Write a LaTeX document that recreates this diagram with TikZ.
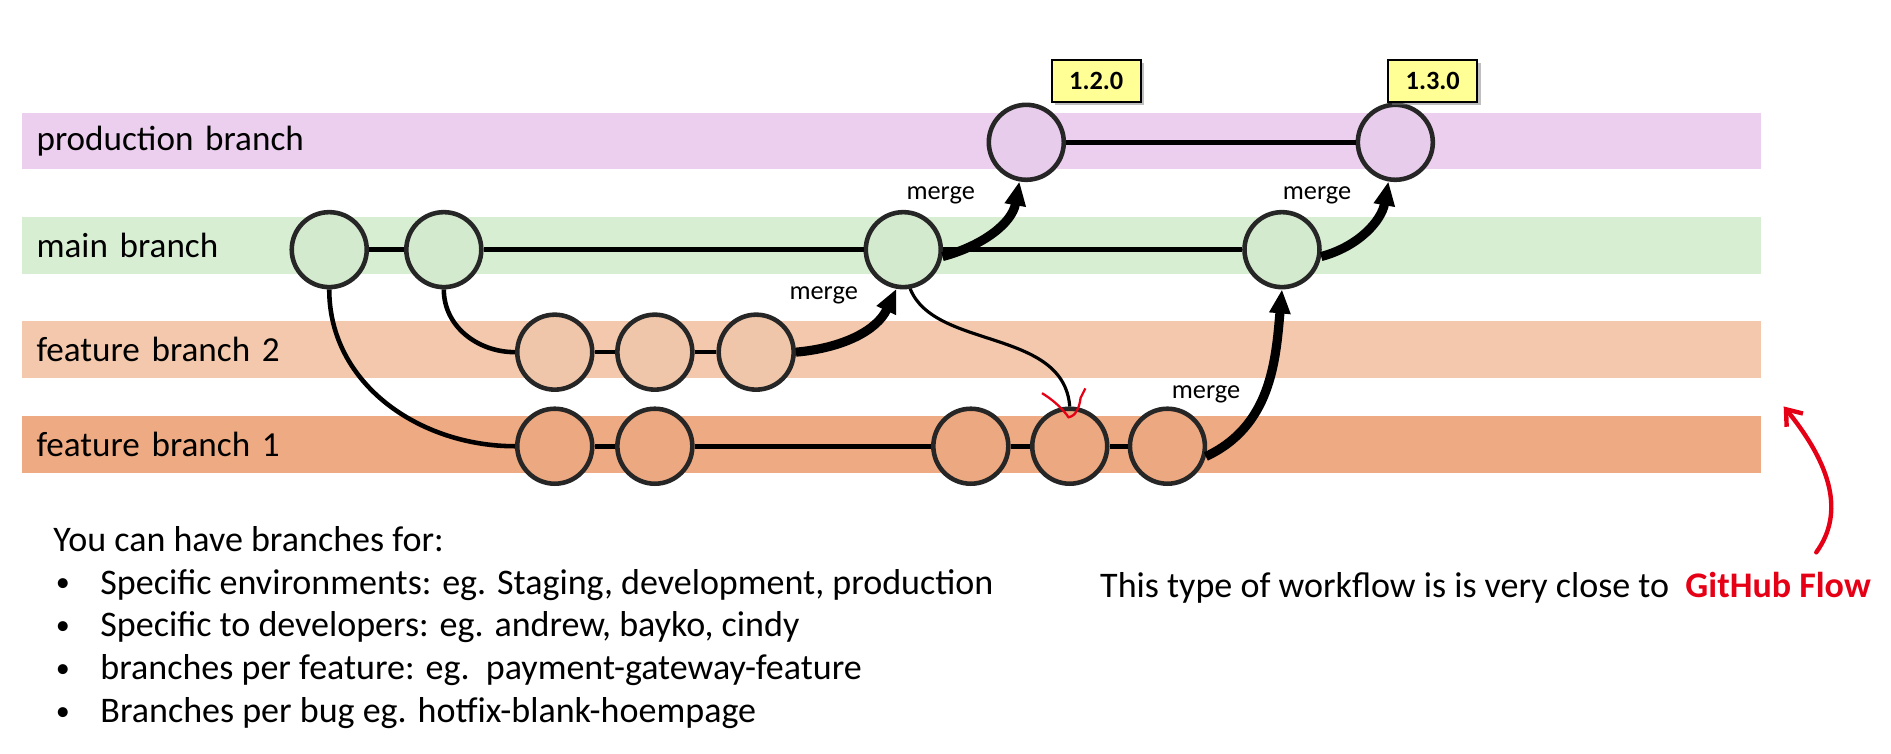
\documentclass[tikz,border=0pt]{standalone}
\usepackage{fontspec}
\setmainfont{Carlito}
\usepackage{tikz}
\usetikzlibrary{arrows.meta,positioning,shadows}

\definecolor{prodband}{RGB}{236,206,238}
\definecolor{mainband}{RGB}{216,238,210}
\definecolor{featband2}{RGB}{244,200,172}
\definecolor{featband1}{RGB}{238,170,130}
\definecolor{prodcirc}{RGB}{232,204,236}
\definecolor{maincirc}{RGB}{212,234,206}
\definecolor{featcirc2}{RGB}{240,198,170}
\definecolor{featcirc1}{RGB}{236,168,128}
\definecolor{tagyellow}{RGB}{255,255,150}
\definecolor{ghred}{RGB}{230,0,22}

\newcommand{\itemdot}{\makebox[0.94cm][l]{\hspace{0.05cm}\raisebox{0.12ex}{\fontsize{16}{16}\selectfont\textbullet}}}

\begin{document}
\begin{tikzpicture}[
    x=0.02412cm, y=0.02412cm,
    band/.style={rectangle, anchor=north west, minimum height=1.13cm, text width=34.2cm, inner xsep=0.29cm, align=left, font=\fontsize{20}{24}\selectfont},
    commit/.style={circle, draw=black!85, line width=2.6pt, minimum size=1.5cm, inner sep=0pt},
    link/.style={line width=2.6pt},
    push/.style={line width=5.2pt, -{Triangle[length=0.48cm,width=0.4cm]}},
    mlabel/.style={font=\fontsize{15}{18}\selectfont},
    tag/.style={rectangle, draw, line width=1pt, fill=tagyellow, minimum width=1.78cm, minimum height=0.84cm, font=\fontsize{15}{18}\selectfont\bfseries, drop shadow={shadow xshift=2pt, shadow yshift=-2pt, fill=black!50}},
    note/.style={inner sep=0pt, font=\fontsize{20.5}{24.4}\selectfont}
]
    \useasboundingbox (0,0) rectangle (1568,-625);

    % branch bands
    \node[band, fill=prodband] (prod) at (18,-93) {production branch};
    \node[band, fill=mainband] (main) at (18,-180) {main branch};
    \node[band, fill=featband2] (feat2) at (18,-266) {feature branch 2};
    \node[band, fill=featband1] (feat1) at (18,-345) {feature branch 1};

    % commits
    \node[commit, fill=maincirc] (m1) at (273,-207) {};
    \node[commit, fill=maincirc] (m2) at (368,-207) {};
    \node[commit, fill=maincirc] (m3) at (749,-207) {};
    \node[commit, fill=maincirc] (m4) at (1063,-207) {};
    \node[commit, fill=prodcirc] (p1) at (851,-118) {};
    \node[commit, fill=prodcirc] (p2) at (1157,-118) {};
    \node[commit, fill=featcirc2] (a1) at (460,-292) {};
    \node[commit, fill=featcirc2] (a2) at (543,-292) {};
    \node[commit, fill=featcirc2] (a3) at (627,-292) {};
    \node[commit, fill=featcirc1] (b1) at (460,-370) {};
    \node[commit, fill=featcirc1] (b2) at (543,-370) {};
    \node[commit, fill=featcirc1] (b3) at (805,-370) {};
    \node[commit, fill=featcirc1] (b4) at (887,-370) {};
    \node[commit, fill=featcirc1] (b5) at (968,-370) {};

    % release tags
    \node[tag] (v120) at (909,-67) {1.2.0};
    \node[tag] (v130) at (1188,-67) {1.3.0};

    % history lines
    \draw[link] (m1) -- (m2);
    \draw[link] (m2) -- (m3);
    \draw[link] (m3) -- (m4);
    \draw[link] (p1) -- (p2);
    \foreach \u/\v in {a1/a2, a2/a3, b1/b2, b2/b3, b3/b4, b4/b5}
        \draw[link] (\u) -- (\v);
    \draw[link] (m1.south) to[out=-90, in=180] (b1.west);
    \draw[link] (m2.south) to[out=-90, in=180] (a1.west);
    \draw[line width=1.8pt] (m3.-80) .. controls (775,-290) and (882,-272) .. (b4.north);

    % merges
    \draw[push] (a3.east) to[out=5, in=-115] (m3.-100);
    \draw[push] (m3.-10) to[out=15, in=-100] (p1.-100);
    \draw[push] (m4.-10) to[out=15, in=-100] (p2.-100);
    \draw[push] (b5.-15) to[out=25, in=-95] (m4.south);

    \node[mlabel] (mg1) at (780,-162) {merge};
    \node[mlabel] (mg2) at (683,-245) {merge};
    \node[mlabel] (mg3) at (1092,-162) {merge};
    \node[mlabel] (mg4) at (1000,-327) {merge};

    % hand-drawn marks
    \draw[ghred, line width=1.3pt] (864,-326) .. controls (874,-332) and (882,-340) .. (886,-346) .. controls (892,-345) and (895,-338) .. (896,-330) -- (900,-322);
    \coordinate (rtail) at (1506,-458);
    \coordinate (rtip) at (1479,-337);
    \draw[ghred, line width=2.5pt, line cap=round, -{Straight Barb[length=0.28cm,width=0.42cm]}] (rtail) .. controls (1530,-425) and (1518,-385) .. (rtip);

    % notes
    \node[note, anchor=north west, align=left] (uses) at (44,-436) {You can have branches for:\\
        \itemdot Specific environments: eg. Staging, development, production\\
        \itemdot Specific to developers: eg. andrew, bayko, cindy\\
        \itemdot branches per feature: eg.\ \ payment-gateway-feature\\
        \itemdot Branches per bug eg. hotfix-blank-hoempage};
    \node[note, anchor=west] (close) at (912,-487) {This type of workflow is is very close to\ \ \textcolor{ghred}{\textbf{GitHub Flow}}};
\end{tikzpicture}
\end{document}
